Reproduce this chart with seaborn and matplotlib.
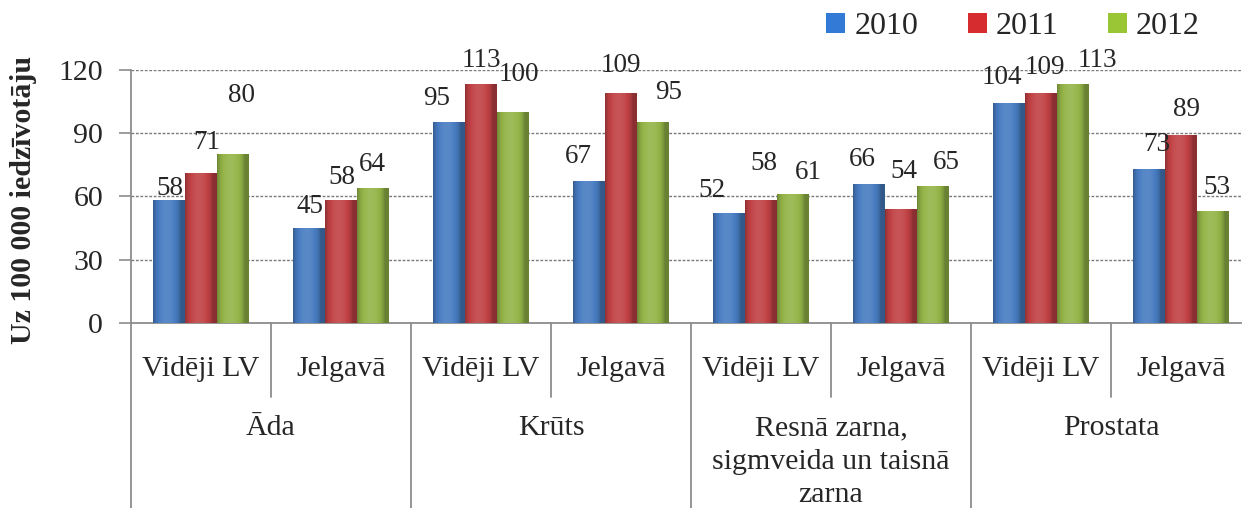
import numpy as np
import pandas as pd
import matplotlib
matplotlib.use("Agg")
import matplotlib.pyplot as plt
import matplotlib.transforms as mtransforms
from matplotlib.patches import Patch
import seaborn as sns

# ---- data ----
cancers = ["Āda", "Krūts", "Resnā zarna,\nsigmveida un taisnā\nzarna", "Prostata"]
places = ["Vidēji LV", "Jelgavā"]
years = ["2010", "2011", "2012"]
v2010 = [58, 45, 95, 67, 52, 66, 104, 73]
v2011 = [71, 58, 113, 109, 58, 54, 109, 89]
v2012 = [80, 64, 100, 95, 61, 65, 113, 53]
y_ticks = [0, 30, 60, 90, 120]
y_label = "Uz 100 000 iedzīvotāju"

# label offsets (pixels, relative to bar top centre) mimicking manual placement
label_offsets = {
    "2010": [(1, 12), (1, 21), (-13, 24), (-11, 25), (-17, 23), (-7, 24), (-7, 26), (7, 24)],
    "2011": [(6, 31), (1, 23), (0, 24), (0, 27), (3, 37), (3, 37), (4, 25), (5, 25)],
    "2012": [(9, 59), (0, 23), (6, 37), (16, 30), (16, 22), (14, 23), (25, 24), (4, 24)],
}

cats = [f"{c}|{p}" for c in cancers for p in places]
df = pd.DataFrame({
    "cat": cats * 3,
    "year": sum([[y] * len(cats) for y in years], []),
    "value": v2010 + v2011 + v2012,
})

colors = {"2010": "#3379D6", "2011": "#D62C30", "2012": "#9AC635"}

sns.set_style("white")
plt.rcParams["font.family"] = ["Liberation Serif", "DejaVu Serif"]

W, H = 1242, 508
fig = plt.figure(figsize=(W / 100, H / 100), dpi=100)
left_px, right_px, top_px, bot_px = 131, 1251, 69.5, 323
ax = fig.add_axes([left_px / W, 1 - bot_px / H, (right_px - left_px) / W, (bot_px - top_px) / H])

sns.barplot(data=df, x="cat", y="value", hue="year", order=cats, hue_order=years,
            palette=colors, width=0.68, gap=0, ax=ax, legend=False, zorder=3,
            edgecolor="none", linewidth=0)

ax.set_ylim(0, 120)
ax.set_xlim(-0.5, len(cats) - 0.5)
ax.set_yticks(y_ticks)
ax.set_yticklabels([str(t) for t in y_ticks], fontsize=21.5)
ax.set_xticks([])
ax.set_xlabel("")
ax.set_ylabel("")
ax.tick_params(axis="y", which="both", left=True, length=9, width=1.2, color="#8c8c8c", pad=11)
for s in ["top", "right"]:
    ax.spines[s].set_visible(False)
for s in ["left", "bottom"]:
    ax.spines[s].set_color("#8c8c8c")
    ax.spines[s].set_linewidth(1.3)
for t in y_ticks[1:]:
    ax.axhline(t, color="#7a7a7a", lw=1.0, ls=(0, (2.0, 1.2)), zorder=1)

# gradient fill on bars
def shade(rgb, f):
    rgb = np.array(rgb[:3])
    if f >= 1:
        return rgb + (1 - rgb) * (f - 1)
    return rgb * f

bars = [p for p in ax.patches if p.get_height() > 0]
t = np.linspace(0, 1, 64)
prof = 0.72 + 0.38 * np.sin(np.pi * np.clip(t * 1.15, 0, 1)) ** 0.6
for b in bars:
    fc = b.get_facecolor()
    img = np.array([[shade(fc, f) for f in prof]])
    x0, w, h = b.get_x(), b.get_width(), b.get_height()
    im = ax.imshow(img, extent=(x0, x0 + w, 0, h), aspect="auto", zorder=4,
                   interpolation="bilinear")
    im.set_clip_path(b)
ax.set_xlim(-0.5, len(cats) - 0.5)
ax.set_ylim(0, 120)

# data labels
for yi, (yr, vals) in enumerate(zip(years, [v2010, v2011, v2012])):
    for ci, v in enumerate(vals):
        xc = ci + (yi - 1) * 0.68 / 3
        dx, dy = label_offsets[yr][ci]
        ax.annotate(str(v), (xc, v), xytext=(dx, dy), textcoords="offset pixels",
                    ha="center", va="center", fontsize=19.5, zorder=6)

# two-level category axis
trans = mtransforms.blended_transform_factory(ax.transData, ax.transAxes)
axh = bot_px - top_px
def yfrac(py):
    return (bot_px - py) / axh

for i, c in enumerate(cats):
    place = c.split("|")[1]
    ax.text(i, yfrac(369), place, transform=trans, ha="center", va="center",
            fontsize=21.5, clip_on=False)
for k, c in enumerate(cancers):
    ax.text(2 * k + 0.5, yfrac(415), c, transform=trans, ha="center", va="top",
            fontsize=21.5, linespacing=1.38, clip_on=False)
for b in range(len(cats) + 1):
    xb = b - 0.5
    long = (b % 2 == 0)
    ax.plot([xb, xb], [0, yfrac(H + 5 if long else 397)], transform=trans,
            color="#8c8c8c", lw=1.3, clip_on=False, zorder=2)

# y label
fig.text(24 / W, 1 - 200 / H, y_label, rotation=90, ha="center", va="center",
         fontsize=21.5, fontweight="bold")

# legend
handles = [Patch(facecolor=colors[y], edgecolor="none") for y in years]
fig.legend(handles, years, loc="center", bbox_to_anchor=(1013 / W, 1 - 27 / H),
           ncol=3, frameon=False, fontsize=23, handlelength=0.6, handleheight=0.6,
           handletextpad=0.28, columnspacing=1.55, borderaxespad=0, borderpad=0)

fig.savefig("out.png", dpi=100)
